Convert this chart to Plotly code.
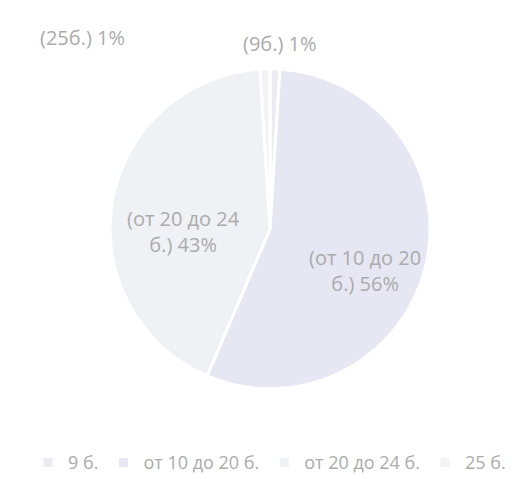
import plotly.graph_objects as go

categories = ["9 б.", "от 10 до 20 б.", "от 20 до 24 б.", "25 б."]
values = [1, 56, 43, 1]
slice_labels = ["(9б.) 1%", "(от 10 до 20<br>б.) 56%", "(от 20 до 24<br>б.) 43%", "(25б.) 1%"]
colors = ["#ecebf2", "#e7e6f3", "#eff1f5", "#f3f3f3"]

FONT = "Open Sans"
TXT = "#ababab"

fig = go.Figure()
fig.add_trace(go.Pie(
    labels=categories,
    values=values,
    textinfo="none",
    sort=False,
    direction="clockwise",
    rotation=0,
    marker=dict(colors=colors, line=dict(color="white", width=3)),
    domain=dict(x=[0.193, 0.809], y=[0.205, 0.873]),
    hoverinfo="label+percent",
))

# label placement (layout positions, paper coords)
label_pos = [(0.52, 0.925), (0.682, 0.451), (0.335, 0.534), (0.143, 0.939)]
for txt, (lx, ly) in zip(slice_labels, label_pos):
    fig.add_annotation(x=lx, y=ly, xref="paper", yref="paper", text=txt,
                       xanchor="center", yanchor="middle",
                       showarrow=False, align="center",
                       font=dict(color=TXT, size=20, family=FONT))

fig.update_layout(
    width=523, height=479,
    margin=dict(l=0, r=0, t=0, b=0),
    paper_bgcolor="white",
    plot_bgcolor="white",
    showlegend=True,
    legend=dict(orientation="h", x=0.5, xanchor="center", y=0.012, yanchor="bottom",
                font=dict(color=TXT, size=18, family=FONT),
                traceorder="normal", itemwidth=30),
)

fig.write_html("out.html")
